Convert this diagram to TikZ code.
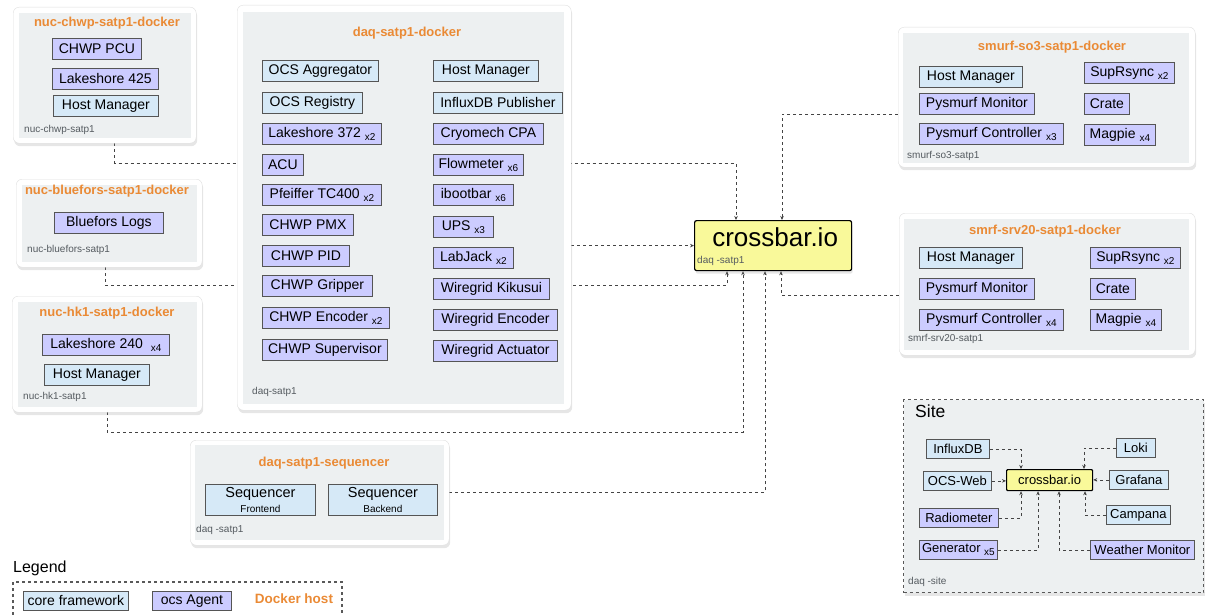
\documentclass[tikz,border=0pt]{standalone}
\usepackage{fontspec}
\setmainfont{Liberation Sans}
\usetikzlibrary{arrows.meta,shadows,backgrounds}
\definecolor{agentfill}{HTML}{CCCCFF}
\definecolor{corefill}{HTML}{D6E9F7}
\definecolor{hostgrey}{HTML}{EDF0F1}
\definecolor{dockerorange}{HTML}{EA8A35}
\definecolor{xbaryellow}{HTML}{F9F99A}
\definecolor{itemline}{HTML}{555555}
\definecolor{footgrey}{HTML}{555B60}
\definecolor{linkgrey}{HTML}{444444}
\newcommand{\cnt}[1]{\raisebox{-3pt}{\fontsize{10}{10}\selectfont x#1}}

\begin{document}
\begin{tikzpicture}[x=1pt,y=-1pt,
	item/.style={draw=itemline,line width=0.8pt,inner sep=0pt,minimum height=21pt,font=\fontsize{14}{16}\selectfont,anchor=north west},
	agent/.style={item,fill=agentfill},
	core/.style={item,fill=corefill},
	wd/.style={minimum width=#1pt},
	ht/.style={minimum height=#1pt},
	host/.style={draw=gray!25,fill=white,rounded corners=6pt,inner sep=0pt,anchor=north west,
		drop shadow={shadow xshift=1pt,shadow yshift=-3pt,opacity=0.2}},
	hostin/.style={fill=hostgrey},
	title/.style={font=\bfseries\fontsize{13}{15}\selectfont,text=dockerorange},
	foot/.style={font=\fontsize{10}{12}\selectfont,text=footgrey,anchor=west,inner sep=0pt},
	link/.style={dashed,draw=linkgrey,line width=0.7pt,-{Stealth[length=4pt,width=3.5pt]}},
	]

	\useasboundingbox (0,0) rectangle (1206,615);

	% nuc-chwp host
	\node[host,wd=183,ht=136] (chwp) at (13,7) {};
	\fill[hostin] ([xshift=6pt,yshift=-6pt]chwp.north west) rectangle ([xshift=-5pt,yshift=5pt]chwp.south east);
	\node[title] at (107,23) {nuc-chwp-satp1-docker};
	\node[agent,wd=89] (chwppcu) at (52,38) {CHWP PCU};
	\node[agent,wd=106] (ls425) at (52,68) {Lakeshore 425};
	\node[core,wd=105] (hmchwp) at (53,95) {Host Manager};
	\node[foot] at (24,130) {nuc-chwp-satp1};

	% nuc-bluefors host
	\node[host,wd=186,ht=88] (bluefors) at (16,179) {};
	\fill[hostin] ([xshift=6pt,yshift=-6pt]bluefors.north west) rectangle ([xshift=-5pt,yshift=5pt]bluefors.south east);
	\node[title] at (107,191) {nuc-bluefors-satp1-docker};
	\node[agent,wd=109] (bflogs) at (54,212) {Bluefors Logs};
	\node[foot] at (27,250) {nuc-bluefors-satp1};

	% nuc-hk1 host
	\node[host,wd=190,ht=116] (hk1) at (12,296) {};
	\fill[hostin] ([xshift=6pt,yshift=-6pt]hk1.north west) rectangle ([xshift=-5pt,yshift=5pt]hk1.south east);
	\node[title] at (107,313) {nuc-hk1-satp1-docker};
	\node[agent,wd=127] (ls240) at (42,334) {Lakeshore 240\hspace{8pt}\cnt{4}};
	\node[core,wd=105] (hmhk1) at (44,364) {Host Manager};
	\node[foot] at (23,397) {nuc-hk1-satp1};

	% daq host
	\node[host,wd=334,ht=405] (daq) at (237,5) {};
	\fill[hostin] ([xshift=6pt,yshift=-7pt]daq.north west) rectangle ([xshift=-7pt,yshift=6pt]daq.south east);
	\node[title] at (407,33) {daq-satp1-docker};
	\node[core,wd=116] (aggr) at (262,60) {OCS Aggregator};
	\node[core,wd=100] (registry) at (262,92) {OCS Registry};
	\node[agent,wd=119] (ls372) at (262,123) {Lakeshore 372 \cnt{2}};
	\node[agent,wd=41] (acu) at (262,154) {ACU};
	\node[agent,wd=119] (pfeiffer) at (262,184) {Pfeiffer TC400 \cnt{2}};
	\node[agent,wd=91] (pmx) at (262,214) {CHWP PMX};
	\node[agent,wd=87] (pid) at (262,245) {CHWP PID};
	\node[agent,wd=110] (gripper) at (262,275) {CHWP Gripper};
	\node[agent,wd=127] (encoder) at (262,307) {CHWP Encoder \cnt{2}};
	\node[agent,wd=125] (supervisor) at (262,339) {CHWP Supervisor};
	\node[core,wd=105] (hmdaq) at (433,60) {Host Manager};
	\node[core,wd=129] (influxpub) at (433,92) {InfluxDB Publisher};
	\node[agent,wd=110] (cryomech) at (433,123) {Cryomech CPA};
	\node[agent,wd=90] (flowmeter) at (433,154) {Flowmeter \cnt{6}};
	\node[agent,wd=80] (ibootbar) at (433,184) {ibootbar \cnt{6}};
	\node[agent,wd=60] (ups) at (433,216) {UPS \cnt{3}};
	\node[agent,wd=80] (labjack) at (433,247) {LabJack \cnt{2}};
	\node[agent,wd=116] (kikusui) at (433,278) {Wiregrid Kikusui};
	\node[agent,wd=124] (wgencoder) at (433,309) {Wiregrid Encoder};
	\node[agent,wd=124] (actuator) at (433,340) {Wiregrid Actuator};
	\node[foot] at (252,392) {daq-satp1};

	% sequencer host
	\node[host,wd=259,ht=105] (seq) at (190,440) {};
	\fill[hostin] ([xshift=5pt,yshift=-5pt]seq.north west) rectangle ([xshift=-5pt,yshift=5pt]seq.south east);
	\node[title] at (324,463) {daq-satp1-sequencer};
	\node[core,wd=110,ht=31,align=center] (seqfront) at (205,484) {{\fontsize{14.5}{15}\selectfont Sequencer}\\[-1pt]{\fontsize{10}{11}\selectfont Frontend}};
	\node[core,wd=109,ht=31,align=center] (seqback) at (328,484) {{\fontsize{14.5}{15}\selectfont Sequencer}\\[-1pt]{\fontsize{10}{11}\selectfont Backend}};
	\node[foot] at (196,530) {daq -satp1};

	% smurf-so3 host
	\node[host,wd=297,ht=140] (so3) at (898,27) {};
	\fill[hostin] ([xshift=5pt,yshift=-6pt]so3.north west) rectangle ([xshift=-6pt,yshift=4pt]so3.south east);
	\node[title] at (1052,47) {smurf-so3-satp1-docker};
	\node[core,wd=103] (hmso3) at (919,66) {Host Manager};
	\node[agent,wd=115] (pmonso3) at (919,93) {Pysmurf Monitor};
	\node[agent,wd=144] (pctrlso3) at (919,123) {Pysmurf Controller \cnt{3}};
	\node[agent,wd=90] (suprso3) at (1084,62) {SupRsync \cnt{2}};
	\node[agent,wd=45] (crateso3) at (1084,93) {Crate};
	\node[agent,wd=71] (magso3) at (1084,124) {Magpie \cnt{4}};
	\node[foot] at (907,156) {smurf-so3-satp1};

	% smrf-srv20 host
	\node[host,wd=296,ht=142] (srv20) at (899,213) {};
	\fill[hostin] ([xshift=5pt,yshift=-6pt]srv20.north west) rectangle ([xshift=-6pt,yshift=5pt]srv20.south east);
	\node[title] at (1045,231) {smrf-srv20-satp1-docker};
	\node[core,wd=103] (hmsrv) at (919,247) {Host Manager};
	\node[agent,wd=115] (pmonsrv) at (919,278) {Pysmurf Monitor};
	\node[agent,wd=144] (pctrlsrv) at (919,309) {Pysmurf Controller \cnt{4}};
	\node[agent,wd=90] (suprsrv) at (1090,247) {SupRsync \cnt{2}};
	\node[agent,wd=45] (cratesrv) at (1090,278) {Crate};
	\node[agent,wd=71] (magsrv) at (1090,309) {Magpie \cnt{4}};
	\node[foot] at (908,339) {smrf-srv20-satp1};

	% central crossbar
	\node[draw=black,fill=xbaryellow,line width=1.2pt,rounded corners=2pt,anchor=north west,inner sep=0pt,wd=157,ht=50,
		drop shadow={shadow xshift=1pt,shadow yshift=-3pt,opacity=0.2}] (xbar) at (694,220) {};
	\node[font=\fontsize{26}{28}\selectfont] at ([xshift=2pt,yshift=8pt]xbar.center) {crossbar.io};
	\node[foot] at (697,261) {daq -satp1};

	% links to the crossbar
	\begin{scope}[on background layer]
		\draw[link] ([xshift=10pt]chwp.south) -- ++(0,20) -| ([xshift=42pt]xbar.north west);
		\draw[link] ([yshift=-17pt]so3.west) -| ([xshift=88pt]xbar.north west);
		\draw[link] (daq.east |- xbar.west) -- (xbar.west);
		\draw[link] ([xshift=-4pt]bluefors.south) -- ++(0,18) -| ([xshift=33pt]xbar.south west);
		\draw[link] (hk1.south) -- ++(0,20) -| ([xshift=49pt]xbar.south west);
		\draw[link] (seq.east) -| ([xshift=71pt]xbar.south west);
		\draw[link] ([yshift=-11pt]srv20.west) -| ([xshift=87pt]xbar.south west);
	\end{scope}

	% site
	\node[draw=gray!70!black,fill=hostgrey,dashed,line width=1.1pt,anchor=north west,inner sep=0pt,wd=300,ht=193,
		drop shadow={shadow xshift=1pt,shadow yshift=-3pt,opacity=0.2}] (site) at (903,399) {};
	\node[anchor=west,inner sep=0pt,font=\fontsize{17.5}{19}\selectfont] at (915,411) {Site};
	\node[draw=black,fill=xbaryellow,line width=1.2pt,rounded corners=1pt,anchor=north west,inner sep=0pt,wd=86,ht=21,
		font=\fontsize{13}{15}\selectfont] (sitexbar) at (1006,469) {crossbar.io};
	\begin{scope}[item/.append style={font=\fontsize{13}{15}\selectfont,minimum height=19pt}]
		\node[core,wd=63] (influx) at (926,439) {InfluxDB};
		\node[core,wd=68] (ocsweb) at (923,471) {OCS-Web};
		\node[agent,wd=79] (radiometer) at (919,508) {Radiometer};
		\node[agent,wd=78] (generator) at (919,540) {Generator \cnt{5}};
		\node[core,wd=39] (loki) at (1116,438) {Loki};
		\node[core,wd=59] (grafana) at (1109,470) {Grafana};
		\node[core,wd=64] (campana) at (1106,505) {Campana};
		\node[agent,wd=104] (weather) at (1090,540) {Weather Monitor};
	\end{scope}
	\node[foot] at (908,582) {daq -site};
	\draw[link] (influx.east) -| ([xshift=15pt]sitexbar.north west);
	\draw[link] (loki.west) -| ([xshift=78pt]sitexbar.north west);
	\draw[link] (ocsweb.east) -- (ocsweb.east -| sitexbar.west);
	\draw[link] (grafana.west) -- (grafana.west -| sitexbar.east);
	\draw[link] (radiometer.east) -| ([xshift=15pt]sitexbar.south west);
	\draw[link] (generator.east) -| ([xshift=32pt]sitexbar.south west);
	\draw[link] (weather.west) -| ([xshift=53pt]sitexbar.south west);
	\draw[link] (campana.west) -| ([xshift=79pt]sitexbar.south west);

	% legend
	\node[anchor=west,inner sep=0pt,font=\fontsize{16}{18}\selectfont] at (13,568) {Legend};
	\draw[dashed,draw=gray!70!black,line width=1.1pt] (13,615) |- (342,582) -- (342,615);
	\node[core,wd=105,ht=19] (legcore) at (23,591) {core framework};
	\node[agent,wd=79,ht=19] (legagent) at (152,591) {ocs Agent};
	\node[title,font=\bfseries\fontsize{13.5}{15}\selectfont] at (294,599) {Docker host};

\end{tikzpicture}
\end{document}
